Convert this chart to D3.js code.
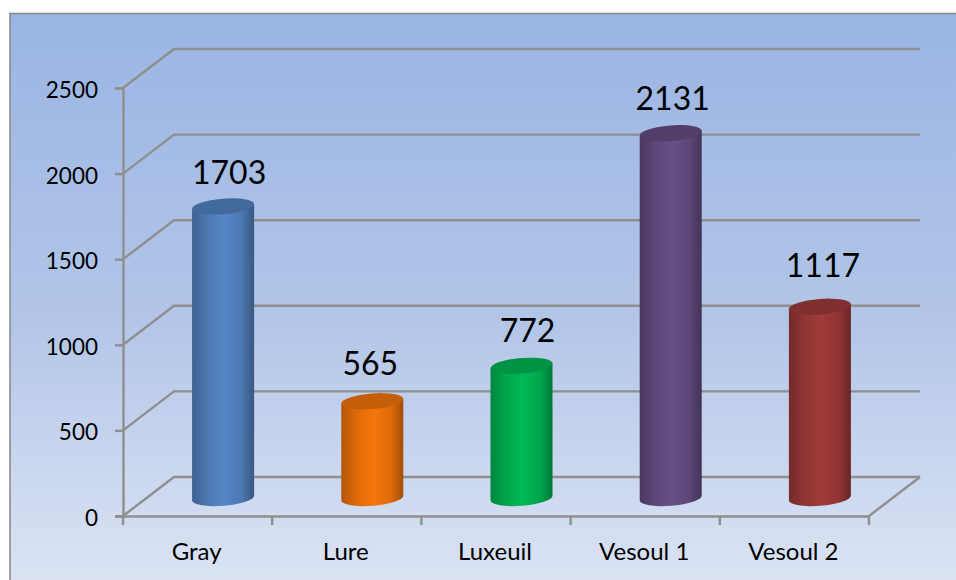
<!DOCTYPE html>
<html>
<head>
<meta charset="utf-8">
<style>
  html, body { margin: 0; padding: 0; background: #fff; }
  svg { display: block; }
  text { font-family: Lato, "Open Sans", sans-serif; fill: #000; }
</style>
<script src="https://cdn.jsdelivr.net/npm/d3@7"></script>
</head>
<body>
<script>
  const categories = ['Gray', 'Lure', 'Luxeuil', 'Vesoul 1', 'Vesoul 2'];
  const values = [1703, 565, 772, 2131, 1117];
  const barColors = ['#5586c6', '#f7760b', '#00b955', '#674f85', '#a03b39'];
  const yTicks = [0, 500, 1000, 1500, 2000, 2500];

  const width = 956, height = 580;
  // front axes of the fake 3d box, and how far the back wall is shifted
  const plot = { left: 123, right: 869, top: 88, bottom: 516 };
  const depth = { x: 51, y: -39 };
  const barWidth = 62, ryEllipse = 7.8, tilt = -4.6;
  // data labels do not sit exactly over the bars in the original
  const labelNudge = [6, -2, 6, 2, 3];
  const labelLift = [21, 25, 22, 22, 28];

  const xScale = d3.scaleBand()
    .domain(categories)
    .range([plot.left, plot.right]);

  const yScale = d3.scaleLinear()
    .domain([0, 2500])
    .range([plot.bottom, plot.top]);

  const svg = d3.select('body')
    .append('svg')
      .attr('width', width)
      .attr('height', height);

  const defs = svg.append('defs');

  const bg = defs.append('linearGradient')
    .attr('id', 'bg')
    .attr('x1', 0).attr('y1', 0).attr('x2', 0).attr('y2', 1);
  bg.append('stop').attr('offset', '0%').attr('stop-color', '#9ab5e3');
  bg.append('stop').attr('offset', '50%').attr('stop-color', '#b2c5e8');
  bg.append('stop').attr('offset', '100%').attr('stop-color', '#e0e7f5');

  // horizontal shading for each cylinder
  barColors.forEach((c, i) => {
    const g = defs.append('linearGradient')
      .attr('id', `bar${i}`)
      .attr('x1', 0).attr('y1', 0).attr('x2', 1).attr('y2', 0);
    g.append('stop').attr('offset', '0%').attr('stop-color', d3.color(c).darker(0.9));
    g.append('stop').attr('offset', '25%').attr('stop-color', d3.color(c).darker(0.3));
    g.append('stop').attr('offset', '52%').attr('stop-color', c);
    g.append('stop').attr('offset', '80%').attr('stop-color', d3.color(c).darker(0.3));
    g.append('stop').attr('offset', '100%').attr('stop-color', d3.color(c).darker(1.2));
  });

  // chart area, runs off the right and bottom of the picture
  svg.append('rect')
    .attr('x', 10).attr('y', 13.5)
    .attr('width', width + 20).attr('height', height + 20)
    .attr('fill', 'url(#bg)')
    .attr('stroke', '#868686')
    .attr('stroke-width', 1.5);

  const axisColor = '#8f8f8f';

  // gridlines: step back along the side wall then across the back wall
  svg.append('g')
    .selectAll('path')
    .data(yTicks)
    .join('path')
      .attr('fill', 'none')
      .attr('stroke', axisColor)
      .attr('stroke-width', 2.4)
      .attr('d', d => d3.line()([
        [plot.left, yScale(d)],
        [plot.left + depth.x, yScale(d) + depth.y],
        [plot.right + depth.x, yScale(d) + depth.y]
      ]));

  // right edge of the floor
  svg.append('line')
    .attr('x1', plot.right).attr('y1', plot.bottom)
    .attr('x2', plot.right + depth.x).attr('y2', plot.bottom + depth.y)
    .attr('stroke', axisColor)
    .attr('stroke-width', 2.4);

  const xAxis = d3.axisBottom(xScale).tickSize(0).tickPadding(27);
  const yAxis = d3.axisLeft(yScale).tickValues(yTicks).tickSize(8).tickPadding(17).tickFormat(d3.format('d'));

  //xAxis
  const gx = svg.append('g')
    .attr('transform', `translate(0, ${plot.bottom})`)
    .call(xAxis);
  gx.select('.domain').attr('stroke', axisColor).attr('stroke-width', 2.4);
  gx.selectAll('text').style('font-size', '24px').attr('dx', -1);
  // ticks sit between the categories
  gx.selectAll('.sep')
    .data(d3.range(categories.length + 1))
    .join('line')
      .attr('class', 'sep')
      .attr('x1', i => plot.left + i * xScale.step())
      .attr('x2', i => plot.left + i * xScale.step())
      .attr('y1', 0).attr('y2', 9)
      .attr('stroke', axisColor)
      .attr('stroke-width', 2.4);

  //yaxis
  const gy = svg.append('g')
    .attr('transform', `translate(${plot.left}, 0)`)
    .call(yAxis);
  gy.select('.domain').attr('stroke', axisColor).attr('stroke-width', 2.4);
  gy.selectAll('.tick line').attr('stroke', axisColor).attr('stroke-width', 2.4);
  gy.selectAll('text').style('font-size', '22.5px').attr('dy', '0.42em');

  const data = categories.map((name, i) => ({ name, value: values[i], i }));

  const cx = d => xScale(d.name) + xScale.bandwidth() / 2 + depth.x / 2;
  const topY = d => yScale(d.value) + depth.y / 2 + 1.5;
  const baseY = yScale(0) + depth.y / 2 + 1.5;

  const tiltRad = tilt * Math.PI / 180;
  const dx = barWidth / 2, dy = dx * Math.tan(tiltRad);
  const rx = dx / Math.cos(tiltRad);

  const bars = svg.append('g')
    .selectAll('g')
    .data(data)
    .join('g');

  // body of the cylinder, bottom edge is the front half of the base ellipse
  bars.append('path')
    .attr('fill', d => `url(#bar${d.i})`)
    .attr('d', d => {
      const x = cx(d), t = topY(d);
      return `M${x - dx},${t - dy} L${x - dx},${baseY - dy} ` +
        `A${rx},${ryEllipse} ${tilt} 0 0 ${x + dx},${baseY + dy} ` +
        `L${x + dx},${t + dy} Z`;
    });

  // top face
  bars.append('ellipse')
    .attr('rx', rx)
    .attr('ry', ryEllipse)
    .attr('transform', d => `translate(${cx(d)}, ${topY(d)}) rotate(${tilt})`)
    .attr('fill', d => d3.color(barColors[d.i]).darker(0.65));

  bars.append('text')
    .attr('x', d => cx(d) + labelNudge[d.i])
    .attr('y', d => yScale(d.value) + depth.y / 2 - labelLift[d.i])
    .attr('text-anchor', 'middle')
    .style('font-size', '32px')
    .text(d => d.value);
</script>
</body>
</html>
